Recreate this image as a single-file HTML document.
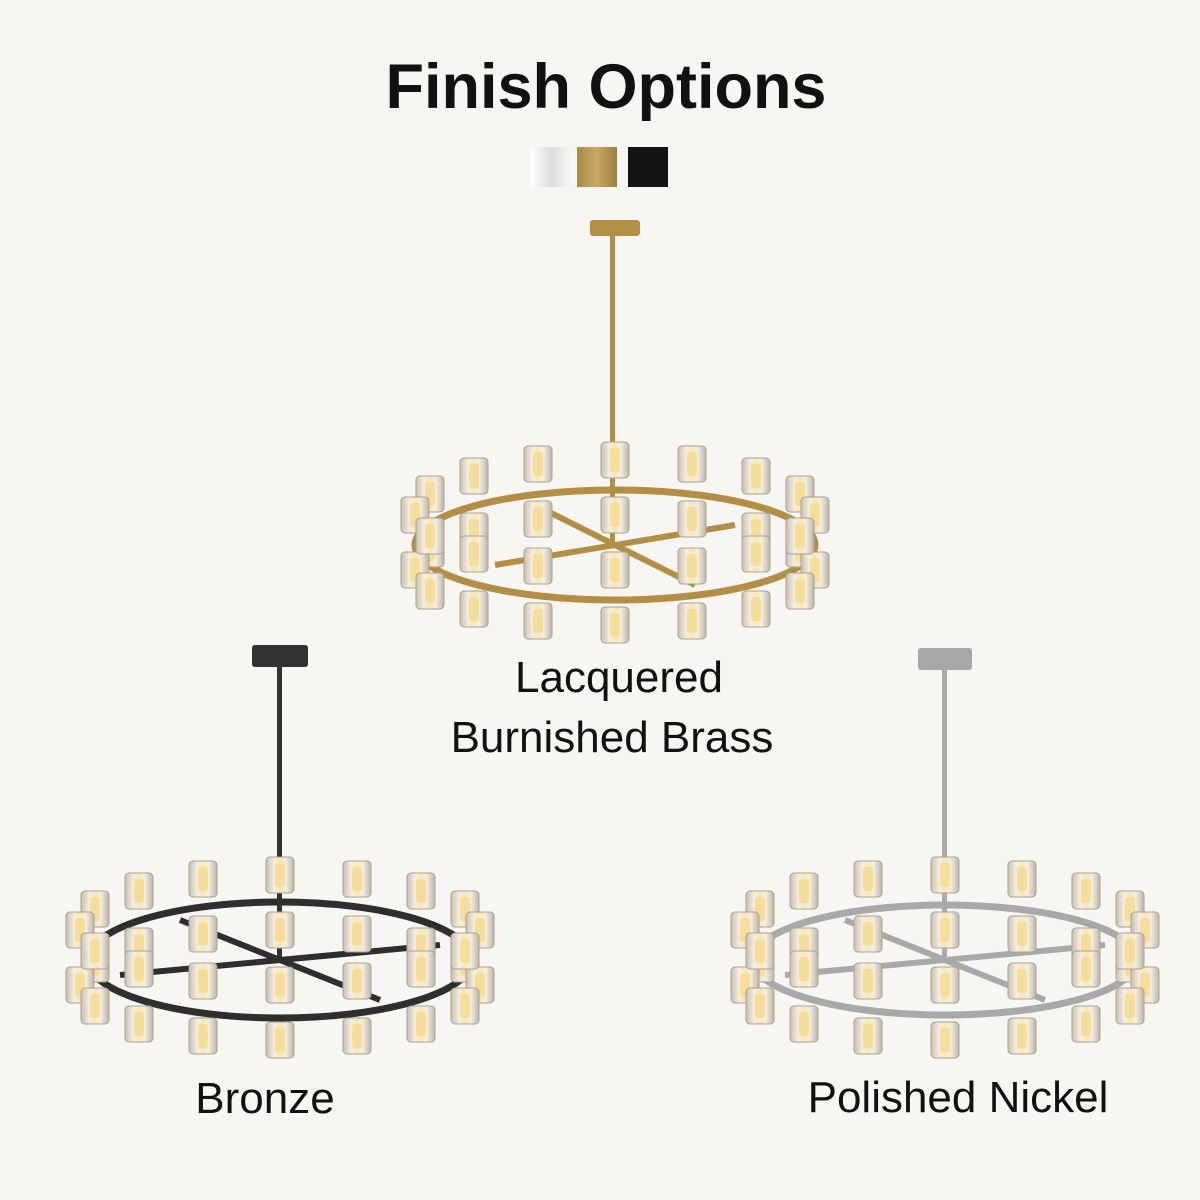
<!DOCTYPE html>
<html><head><meta charset="utf-8"><style>
html,body{margin:0;padding:0;background:#f7f6f2;}
svg{display:block}
text{font-family:"Liberation Sans",sans-serif;fill:#111}
</style></head><body>
<svg width="1200" height="1200" viewBox="0 0 1200 1200" xmlns="http://www.w3.org/2000/svg">
<defs>
<linearGradient id="gl" x1="0" x2="1" y1="0" y2="0">
<stop offset="0" stop-color="#c9c2b2"/><stop offset="0.3" stop-color="#f4eee0"/><stop offset="0.5" stop-color="#f8e6b4"/><stop offset="0.7" stop-color="#f4eee0"/><stop offset="1" stop-color="#bdb6a6"/></linearGradient>
<linearGradient id="wh" x1="0" x2="1"><stop offset="0" stop-color="#fff"/><stop offset="0.5" stop-color="#ddd"/><stop offset="1" stop-color="#f4f4f4"/></linearGradient>
<linearGradient id="br" x1="0" x2="1"><stop offset="0" stop-color="#a88a4a"/><stop offset="0.5" stop-color="#c9a865"/><stop offset="1" stop-color="#9d7f3e"/></linearGradient>
<g id="g"><rect x="-14" y="-18" width="28" height="36" rx="4" fill="url(#gl)" stroke="#a9a296" stroke-width="1"/><rect x="-5" y="-12" width="10" height="24" rx="3" fill="#f6d98e" opacity="0.8"/></g>
<g id="set">
<use href="#g" x="0" y="-85"/><use href="#g" x="77" y="-81"/><use href="#g" x="-77" y="-81"/>
<use href="#g" x="141" y="-69"/><use href="#g" x="-141" y="-69"/><use href="#g" x="185" y="-51"/><use href="#g" x="-185" y="-51"/>
<use href="#g" x="200" y="-30"/><use href="#g" x="-200" y="-30"/>
<use href="#g" x="0" y="-30"/><use href="#g" x="77" y="-26"/><use href="#g" x="-77" y="-26"/>
<use href="#g" x="141" y="-14"/><use href="#g" x="-141" y="-14"/><use href="#g" x="185" y="4"/><use href="#g" x="-185" y="4"/>
<use href="#g" x="200" y="25"/><use href="#g" x="-200" y="25"/><use href="#g" x="185" y="-9"/><use href="#g" x="-185" y="-9"/>
<use href="#g" x="141" y="9"/><use href="#g" x="-141" y="9"/><use href="#g" x="77" y="21"/><use href="#g" x="-77" y="21"/><use href="#g" x="0" y="25"/>
<use href="#g" x="185" y="46"/><use href="#g" x="-185" y="46"/><use href="#g" x="141" y="64"/><use href="#g" x="-141" y="64"/>
<use href="#g" x="77" y="76"/><use href="#g" x="-77" y="76"/><use href="#g" x="0" y="80"/>
</g>
</defs>
<rect width="1200" height="1200" fill="#f7f6f2"/>
<text x="606" y="108" font-size="63" font-weight="bold" text-anchor="middle">Finish Options</text>
<rect x="531" y="147" width="39" height="40" fill="url(#wh)"/>
<rect x="577" y="147" width="40" height="40" fill="url(#br)"/>
<rect x="628" y="147" width="40" height="40" fill="#151515"/>

<rect x="590" y="220" width="50" height="16" rx="3" fill="#b38f45"/>
<rect x="610" y="236" width="5" height="310" fill="#b38f45"/>
<g transform="translate(615,545)" stroke="#b38f45" fill="none">
<ellipse rx="200" ry="55" stroke-width="7"/>
<line x1="-80" y1="-40" x2="80" y2="40" stroke-width="6"/><line x1="-120" y1="20" x2="120" y2="-20" stroke-width="6"/>
<use href="#set" stroke="none"/></g>
<text x="619" y="692" font-size="44" text-anchor="middle">Lacquered</text>
<text x="612" y="752" font-size="44" text-anchor="middle">Burnished Brass</text>

<rect x="252" y="645" width="56" height="22" rx="3" fill="#333"/>
<rect x="277" y="667" width="5" height="290" fill="#333"/>
<g transform="translate(280,960)" stroke="#2e2e2e" fill="none">
<ellipse rx="192" ry="58" stroke-width="7"/>
<line x1="-100" y1="-40" x2="100" y2="40" stroke-width="6"/><line x1="-160" y1="15" x2="160" y2="-15" stroke-width="6"/>
<use href="#set" stroke="none"/></g>
<text x="265" y="1113" font-size="44" text-anchor="middle">Bronze</text>

<rect x="918" y="648" width="54" height="22" rx="3" fill="#a8a8a8"/>
<rect x="942" y="670" width="5" height="290" fill="#aaa"/>
<g transform="translate(945,960)" stroke="#a9a9a9" fill="none">
<ellipse rx="192" ry="55" stroke-width="7"/>
<line x1="-100" y1="-40" x2="100" y2="40" stroke-width="6"/><line x1="-160" y1="15" x2="160" y2="-15" stroke-width="6"/>
<use href="#set" stroke="none"/></g>
<text x="958" y="1112" font-size="44" text-anchor="middle">Polished Nickel</text>
</svg>
</body></html>
